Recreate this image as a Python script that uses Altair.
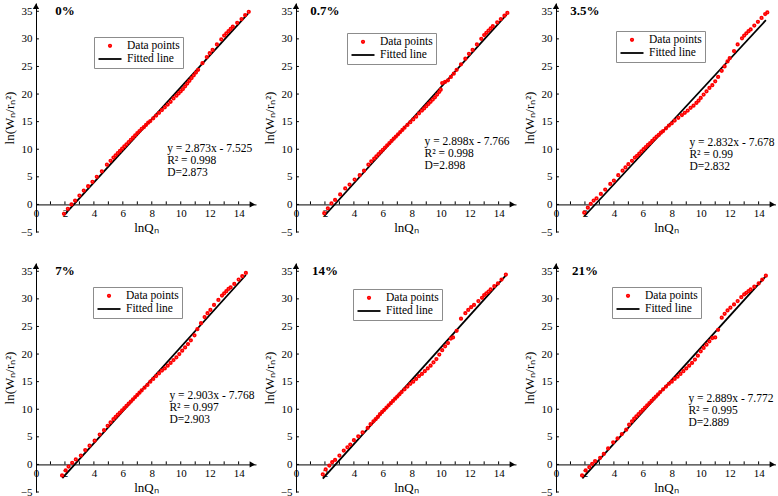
import altair as alt
import pandas as pd

# ---------------- data ----------------
labels = ["0%", "0.7%", "3.5%", "7%", "14%", "21%"]
slopes = [2.873, 2.898, 2.832, 2.903, 2.91, 2.889]
intercepts = [-7.525, -7.766, -7.678, -7.768, -7.95, -7.772]
r_squared = ["0.998", "0.998", "0.99", "0.997", "", "0.995"]
show_equation = [True, True, True, True, False, True]
fit_start = [1.97, 1.97, 1.97, 1.82, 1.85, 1.82]
fit_end = [14.65, 14.55, 14.5, 14.5, 14.5, 14.5]

x_0 = [1.93, 2.2, 2.45, 2.7, 3.0, 3.3, 3.6, 3.9, 4.2, 4.55, 4.9, 5.15, 5.35, 5.5, 5.65, 5.8, 5.95,
       6.1, 6.25, 6.4, 6.55, 6.7, 6.85, 7.0, 7.15, 7.3, 7.45, 7.6, 7.75, 7.9, 8.1, 8.3, 8.5, 8.7,
       8.9, 9.1, 9.3, 9.5, 9.7, 9.85, 10.0, 10.15, 10.3, 10.45, 10.6, 10.75, 10.9, 11.05, 11.2,
       11.5, 11.8, 12.0, 12.2, 12.5, 12.8, 13.0, 13.15, 13.3, 13.45, 13.6, 13.9, 14.2, 14.45, 14.7]
y_0 = [-1.7, -0.8, 0.0, 0.7, 1.6, 2.5, 3.3, 4.1, 5.0, 6.0, 7.2, 7.9, 8.5, 8.9, 9.3, 9.7, 10.1,
       10.5, 10.9, 11.3, 11.7, 12.1, 12.5, 12.9, 13.3, 13.7, 14.0, 14.4, 14.8, 15.1, 15.6, 16.1,
       16.6, 17.1, 17.6, 18.1, 18.6, 19.2, 19.7, 20.1, 20.5, 20.9, 21.4, 21.9, 22.4, 22.9, 23.4,
       23.9, 24.4, 25.6, 26.7, 27.4, 28.0, 29.0, 29.9, 30.6, 31.0, 31.4, 31.8, 32.2, 32.9, 33.6,
       34.3, 34.9]

x_1 = [1.95, 2.2, 2.45, 2.7, 3.05, 3.4, 3.7, 4.05, 4.4, 4.7, 5.0, 5.2, 5.4, 5.55, 5.7, 5.85, 6.0,
       6.15, 6.3, 6.45, 6.6, 6.75, 6.9, 7.05, 7.2, 7.35, 7.5, 7.7, 7.9, 8.1, 8.3, 8.5, 8.7, 8.85,
       9.0, 9.15, 9.3, 9.45, 9.6, 9.75, 9.9, 10.0, 10.1, 10.3, 10.5, 10.7, 10.9, 11.1, 11.4, 11.7,
       11.95, 12.2, 12.5, 12.8, 13.0, 13.15, 13.3, 13.45, 13.6, 13.9, 14.15, 14.4, 14.6]
y_1 = [-1.6, -0.7, 0.2, 0.8, 1.8, 2.9, 3.6, 4.5, 5.3, 6.1, 7.2, 7.8, 8.3, 8.7, 9.1, 9.5, 9.9,
       10.3, 10.7, 11.1, 11.5, 11.9, 12.3, 12.7, 13.1, 13.5, 13.9, 14.4, 14.9, 15.4, 15.9, 16.5,
       17.0, 17.4, 17.8, 18.2, 18.6, 19.0, 19.4, 19.9, 20.4, 20.8, 22.0, 22.2, 22.5, 23.1, 23.7,
       24.4, 25.4, 26.4, 27.3, 28.0, 29.0, 30.0, 30.7, 31.1, 31.5, 31.9, 32.3, 33.0, 33.6, 34.2,
       34.7]

x_2 = [1.95, 2.2, 2.4, 2.6, 2.8, 3.1, 3.4, 3.75, 4.0, 4.3, 4.6, 4.8, 5.0, 5.25, 5.45, 5.6, 5.75,
       5.9, 6.05, 6.2, 6.35, 6.5, 6.65, 6.8, 6.95, 7.1, 7.25, 7.4, 7.6, 7.8, 8.0, 8.2, 8.45, 8.7,
       8.9, 9.1, 9.3, 9.5, 9.7, 9.85, 10.0, 10.2, 10.4, 10.6, 10.8, 11.0, 11.2, 11.45, 11.65,
       11.85, 12.0, 12.3, 12.55, 12.85, 13.0, 13.15, 13.3, 13.45, 13.7, 13.95, 14.2, 14.45, 14.6]
y_2 = [-1.5, -0.6, 0.1, 0.7, 1.1, 1.9, 2.7, 3.7, 4.3, 5.3, 6.1, 6.7, 7.3, 7.9, 8.5, 8.8, 9.2,
       9.6, 10.0, 10.4, 10.8, 11.1, 11.5, 11.9, 12.3, 12.6, 13.0, 13.3, 13.8, 14.3, 14.7, 15.2,
       15.7, 16.2, 16.6, 17.0, 17.5, 17.9, 18.4, 18.8, 19.3, 19.9, 20.5, 21.1, 21.6, 22.3, 23.1,
       24.2, 25.0, 25.9, 26.5, 27.8, 29.0, 30.1, 30.6, 31.0, 31.4, 31.7, 32.4, 33.1, 33.8, 34.5,
       34.8]

x_3 = [1.8, 2.05, 2.25, 2.5, 2.75, 3.1, 3.4, 3.7, 4.05, 4.4, 4.7, 4.95, 5.15, 5.35, 5.5, 5.65,
       5.8, 5.95, 6.1, 6.25, 6.4, 6.55, 6.7, 6.85, 7.0, 7.15, 7.3, 7.5, 7.7, 7.9, 8.1, 8.3, 8.5,
       8.7, 8.9, 9.1, 9.3, 9.5, 9.7, 9.9, 10.1, 10.3, 10.5, 10.7, 10.95, 11.15, 11.4, 11.65, 11.85,
       12.05, 12.3, 12.6, 12.85, 13.0, 13.15, 13.3, 13.45, 13.7, 14.0, 14.25, 14.5]
y_3 = [-2.0, -1.1, -0.4, 0.3, 0.9, 1.6, 2.6, 3.4, 4.3, 5.4, 6.2, 7.0, 7.6, 8.2, 8.6, 9.0, 9.4,
       9.8, 10.2, 10.6, 11.0, 11.4, 11.8, 12.2, 12.6, 13.0, 13.4, 13.9, 14.4, 15.0, 15.5, 16.0,
       16.5, 17.0, 17.4, 17.9, 18.4, 18.9, 19.4, 20.0, 20.6, 21.2, 21.8, 22.5, 23.4, 24.5, 25.6,
       26.7, 27.4, 28.0, 28.9, 29.8, 30.6, 31.0, 31.4, 31.8, 32.1, 32.7, 33.5, 34.1, 34.7]

x_4 = [1.85, 2.05, 2.3, 2.5, 2.7, 3.0, 3.3, 3.55, 3.75, 4.0, 4.3, 4.6, 4.95, 5.15, 5.35, 5.5,
       5.65, 5.8, 5.95, 6.1, 6.25, 6.4, 6.55, 6.7, 6.85, 7.0, 7.15, 7.3, 7.5, 7.7, 7.9, 8.1, 8.3,
       8.5, 8.7, 8.9, 9.1, 9.3, 9.5, 9.7, 9.9, 10.1, 10.3, 10.5, 10.7, 10.85, 11.1, 11.4, 11.7,
       11.9, 12.1, 12.3, 12.6, 12.85, 13.0, 13.15, 13.3, 13.45, 13.7, 13.95, 14.2, 14.5]
y_4 = [-1.8, -0.9, -0.2, 0.4, 0.8, 1.6, 2.5, 3.1, 3.6, 4.4, 5.1, 5.8, 6.6, 7.3, 7.8, 8.2, 8.6,
       9.1, 9.5, 9.9, 10.3, 10.7, 11.1, 11.5, 11.9, 12.3, 12.7, 13.1, 13.6, 14.1, 14.6, 15.0,
       15.5, 16.0, 16.4, 16.9, 17.4, 17.9, 18.5, 19.1, 19.9, 20.7, 21.4, 22.0, 22.8, 23.0, 24.2,
       26.4, 27.4, 28.0, 28.5, 28.9, 29.6, 30.2, 30.7, 31.0, 31.3, 31.7, 32.3, 32.8, 33.5, 34.4]

x_5 = [1.8, 2.05, 2.3, 2.5, 2.7, 3.05, 3.3, 3.6, 3.95, 4.25, 4.55, 4.85, 5.05, 5.25, 5.4, 5.55,
       5.7, 5.85, 6.0, 6.15, 6.3, 6.45, 6.6, 6.75, 6.9, 7.05, 7.2, 7.4, 7.6, 7.8, 8.0, 8.2, 8.4,
       8.6, 8.8, 9.0, 9.2, 9.4, 9.6, 9.8, 10.0, 10.2, 10.4, 10.6, 10.8, 11.0, 11.2, 11.45, 11.65,
       11.85, 12.05, 12.3, 12.55, 12.8, 13.0, 13.15, 13.3, 13.45, 13.7, 14.0, 14.25, 14.5]
y_5 = [-2.0, -1.1, -0.5, 0.1, 0.6, 1.2, 1.9, 2.9, 4.0, 4.7, 5.5, 6.3, 7.2, 7.8, 8.3, 8.7, 9.1,
       9.5, 9.9, 10.3, 10.7, 11.1, 11.5, 11.9, 12.3, 12.7, 13.1, 13.6, 14.1, 14.6, 15.0, 15.5,
       15.9, 16.4, 16.9, 17.4, 17.9, 18.4, 19.0, 19.7, 20.5, 21.1, 21.7, 22.3, 22.9, 23.0, 24.4,
       26.6, 27.3, 27.9, 28.4, 29.0, 29.6, 30.3, 30.8, 31.1, 31.4, 31.7, 32.2, 32.8, 33.5, 34.2]

point_x = [x_0, x_1, x_2, x_3, x_4, x_5]
point_y = [y_0, y_1, y_2, y_3, y_4, y_5]

# tick positions (inward ticks drawn as short rules)
x_tick_values = list(range(1, 15))
y_tick_values = list(range(-5, 36, 5))

# ---------------- layout / style ----------------
FONT = "Liberation Serif"
X_DOMAIN = [0, 15.2]
Y_DOMAIN = [-5, 36.5]
W, H = 220, 229
# pixel distance from the bottom of the plot up to y = 0, where the x axis sits
X_AXIS_LIFT = H * (0 - Y_DOMAIN[0]) / (Y_DOMAIN[1] - Y_DOMAIN[0])
TICK_X_LEN = 0.55   # in y units (~3 px)
TICK_Y_LEN = 0.2    # in x units (~3 px)

legend_pos = [(58, 34), (51, 30), (60, 28), (57, 24), (57, 26), (56, 24)]
equation_pos = [(9.06, 10.1), (8.88, 11.4), (9.22, 11.1), (9.22, 12.4), (9.2, 12.0), (9.15, 11.9)]
LINE_GAP = 12  # px between equation lines

SERIES = ["Data points", "Fitted line"]
# a long horizontal dash for the fitted-line legend key, drawn wider than its symbol cell
LINE_KEY = "M-2.3,0L2.3,0"
color_scale = alt.Scale(domain=SERIES, range=["#ff0000", "#000000"])
shape_scale = alt.Scale(domain=SERIES, range=["circle", LINE_KEY])
size_scale = alt.Scale(domain=SERIES, range=[6, 100])
x_scale = alt.Scale(domain=X_DOMAIN, nice=False, zero=False)
y_scale = alt.Scale(domain=Y_DOMAIN, nice=False, zero=False)

x_axis = alt.Axis(
    title="lnQₙ", values=list(range(0, 15, 2)), offset=-X_AXIS_LIFT, grid=False,
    ticks=False, domainColor="black", labelColor="black",
    labelPadding=3, labelFont=FONT, labelFontSize=11, labelFlush=False, labelOverlap=False,
    titleFont=FONT, titleFontSize=13, titleFontWeight="normal", titleColor="black",
    titlePadding=3,
)
y_axis = alt.Axis(
    title="ln(Wₙ/rₙ²)", values=y_tick_values, grid=False,
    ticks=False, domainColor="black", labelColor="black",
    labelPadding=4, labelFont=FONT, labelFontSize=11, labelFlush=False, labelOverlap=False,
    titleFont=FONT, titleFontSize=13, titleFontWeight="normal", titleColor="black",
    titlePadding=4,
)
X = dict(field="x", type="quantitative", scale=x_scale, axis=x_axis)
Y = dict(field="y", type="quantitative", scale=y_scale, axis=y_axis)


def make_legend(pos):
    return alt.Legend(
        title=None, orient="none", legendX=pos[0], legendY=pos[1],
        strokeColor="#8c8c8c", fillColor="white", padding=3, rowPadding=1,
        labelFont=FONT, labelFontSize=11.5, labelColor="black", labelOffset=11,
        symbolOffset=7, symbolStrokeWidth=1.8, symbolOpacity=1,
    )


def panel(i):
    legend = make_legend(legend_pos[i])
    pts = pd.DataFrame({"x": point_x[i], "y": point_y[i], "series": SERIES[0]})
    fit = pd.DataFrame({"x": [fit_start[i], fit_end[i]], "series": SERIES[1]})

    points = alt.Chart(pts).mark_point(filled=False, strokeWidth=1.8, opacity=1).encode(
        x=alt.X(**X), y=alt.Y(**Y),
        color=alt.Color("series:N", scale=color_scale, legend=legend),
        shape=alt.Shape("series:N", scale=shape_scale, legend=legend),
        size=alt.Size("series:N", scale=size_scale, legend=legend),
    )
    line = alt.Chart(fit).transform_calculate(
        y=f"{slopes[i]} * datum.x + ({intercepts[i]})"
    ).mark_line(strokeWidth=1.8).encode(
        x=alt.X(**X), y=alt.Y(**Y),
        color=alt.Color("series:N", scale=color_scale, legend=legend),
    )

    # inward tick marks on both axes
    xticks = alt.Chart(pd.DataFrame({"x": x_tick_values, "y": 0.0, "y2": TICK_X_LEN})).mark_rule(
        color="black", strokeWidth=1
    ).encode(x=alt.X(**X), y=alt.Y(**Y), y2="y2:Q")
    yticks = alt.Chart(pd.DataFrame({"x": 0.0, "x2": TICK_Y_LEN, "y": y_tick_values})).mark_rule(
        color="black", strokeWidth=1
    ).encode(x=alt.X(**X), x2="x2:Q", y=alt.Y(**Y))

    # axis arrow heads
    up = alt.Chart(pd.DataFrame({"x": [X_DOMAIN[0]], "y": [Y_DOMAIN[1] - 0.6]})).mark_point(
        shape="triangle-up", filled=True, color="black", size=40, opacity=1
    ).encode(x=alt.X(**X), y=alt.Y(**Y))
    right = alt.Chart(pd.DataFrame({"x": [X_DOMAIN[1] - 0.25], "y": [0]})).mark_point(
        shape="triangle-right", filled=True, color="black", size=40, opacity=1
    ).encode(x=alt.X(**X), y=alt.Y(**Y))

    tag = alt.Chart(pd.DataFrame({"x": [2.0], "y": [35.0], "t": [labels[i]]})).mark_text(
        font=FONT, fontSize=13, fontWeight="bold", color="black", align="center",
        baseline="middle",
    ).encode(x=alt.X(**X), y=alt.Y(**Y), text="t:N")

    layers = [xticks, yticks, line, points, up, right, tag]

    if show_equation[i]:
        sign = "-" if intercepts[i] < 0 else "+"
        eq_lines = [
            f"y = {slopes[i]:.3f}x {sign} {abs(intercepts[i]):.3f}",
            f"R² = {r_squared[i]}",
            f"D={slopes[i]:.3f}",
        ]
        ex, ey = equation_pos[i]
        for k, txt in enumerate(eq_lines):
            layers.append(
                alt.Chart(pd.DataFrame({"x": [ex], "y": [ey], "t": [txt]})).mark_text(
                    font=FONT, fontSize=11.5, color="black", align="left",
                    baseline="middle", dy=k * LINE_GAP,
                ).encode(x=alt.X(**X), y=alt.Y(**Y), text="t:N")
            )

    return alt.layer(*layers).properties(width=W, height=H)


chart = alt.concat(
    *[panel(i) for i in range(6)], columns=3,
    spacing={"row": 31, "column": 40}, bounds="flush",
).resolve_scale(
    color="independent", shape="independent", size="independent"
).resolve_legend(
    color="independent", shape="independent", size="independent"
).properties(
    padding={"left": 3, "top": 3, "right": 0, "bottom": 0}, background="white"
).configure_view(
    stroke=None
).configure_axis(
    labelOverlap=False, labelFont=FONT
).configure_legend(
    labelFont=FONT, labelFontSize=11.5
)

chart.save("out.html", embed_options={"renderer": "svg", "actions": False})
